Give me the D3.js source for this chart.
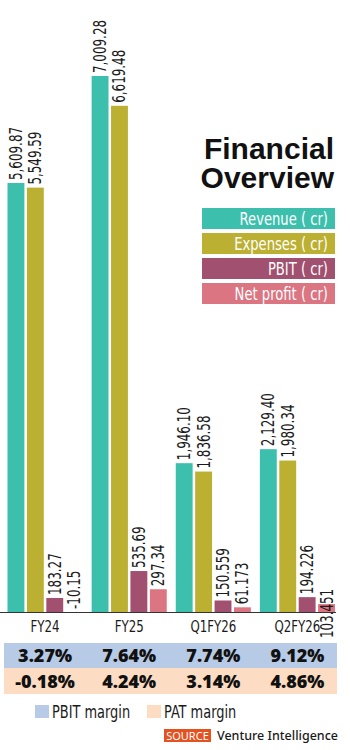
<!DOCTYPE html>
<html>
<head>
<meta charset="utf-8">
<script src="https://cdn.jsdelivr.net/npm/d3@7/dist/d3.min.js"></script>
<style>
  html, body { margin: 0; padding: 0; background: #fff; }
  svg { display: block; }
  .narrow { font-family: "Liberation Sans Narrow", "DejaVu Sans Condensed", "Roboto", sans-serif; }
</style>
</head>
<body>
<svg id="chart" width="350" height="750"></svg>
<script>
// Periods and series (₹ crore)
const periods = ["FY24", "FY25", "Q1FY26", "Q2FY26"];
const seriesNames = ["Revenue", "Expenses", "PBIT", "Net profit"];
const revenue   = [5609.87, 7009.28, 1946.10, 2129.40];
const expenses  = [5549.59, 6619.48, 1836.58, 1980.34];
const pbit      = [183.27, 535.69, 150.559, 194.226];
const netProfit = [-10.15, 297.34, 61.173, 103.451];
// Value labels as printed on the bars
const revenueLabels   = ["5,609.87", "7,009.28", "1,946.10", "2,129.40"];
const expensesLabels  = ["5,549.59", "6,619.48", "1,836.58", "1,980.34"];
const pbitLabels      = ["183.27", "535.69", "150.559", "194.226"];
const netProfitLabels = ["-10.15", "297.34", "61.173", "103.451"];
// Margin rows
const pbitMargin = ["3.27%", "7.64%", "7.74%", "9.12%"];
const patMargin  = ["-0.18%", "4.24%", "3.14%", "4.86%"];

const colors = ["#3dbfad", "#bcb033", "#a1506f", "#db7582"];
const legendText = ["Revenue (  cr)", "Expenses (  cr)", "PBIT (  cr)", "Net profit (  cr)"];

const values = [revenue, expenses, pbit, netProfit];
const labels = [revenueLabels, expensesLabels, pbitLabels, netProfitLabels];

// Horizontal squeeze used to get a condensed face out of the installed fonts
const SQ = 0.78;

const svg = d3.select("#chart");
const baseY = 612;

const x0 = d3.scaleBand().domain(periods).range([7.5, 335]).paddingInner(0.107).paddingOuter(0);
const x1 = d3.scaleBand().domain(seriesNames).range([0, x0.bandwidth()]).paddingInner(0.13).paddingOuter(0);
const y = d3.scaleLinear().domain([0, 7009.28]).range([baseY, 76]);

// Bars
const groups = svg.append("g").selectAll("g")
  .data(periods)
  .join("g")
  .attr("transform", d => `translate(${x0(d)},0)`);

const cells = groups.selectAll("g.cell")
  .data((p, i) => seriesNames.map((s, k) => ({ period: p, series: s, k, v: values[k][i], label: labels[k][i] })))
  .join("g").attr("class", "cell");

cells.append("rect")
  .attr("x", d => x1(d.series))
  .attr("width", x1.bandwidth())
  .attr("y", d => y(Math.max(0, d.v)))
  .attr("height", d => Math.abs(y(d.v) - y(0)))
  .attr("fill", d => colors[d.k]);

// The last net-profit label sits lower, across the axis, beside its short bar
const labelDrop = { "Q2FY26|Net profit": 37 };

cells.append("text")
  .attr("class", "narrow")
  .attr("transform", d => {
    const cx = x1(d.series) + x1.bandwidth() / 2 + 6;
    const yy = y(Math.max(0, d.v)) - 3 + (labelDrop[d.period + "|" + d.series] || 0);
    return `translate(${cx},${yy}) rotate(-90) scale(${SQ},1)`;
  })
  .attr("font-size", 17)
  .attr("fill", "#1a1a1a")
  .text(d => d.label);

// Baseline
svg.append("line")
  .attr("x1", 0).attr("x2", 336)
  .attr("y1", baseY + 0.5).attr("y2", baseY + 0.5)
  .attr("stroke", "#333").attr("stroke-width", 1.2);

// Category axis labels
svg.append("g").selectAll("text")
  .data(periods)
  .join("text")
  .attr("class", "narrow")
  .attr("transform", d => `translate(${x0(d) + x0.bandwidth() / 2},632) scale(0.82,1)`)
  .attr("text-anchor", "middle")
  .attr("font-size", 16)
  .attr("fill", "#1a1a1a")
  .text(d => d);

// Margin table
const rows = [
  { vals: pbitMargin, fill: "#b7cae6", y0: 643, h: 25 },
  { vals: patMargin,  fill: "#fcdcc3", y0: 668, h: 26 }
];
rows.forEach(r => {
  svg.append("rect").attr("x", 4).attr("y", r.y0).attr("width", 333).attr("height", r.h).attr("fill", r.fill);
  svg.append("g").selectAll("text")
    .data(r.vals)
    .join("text")
    .attr("x", (d, i) => x0(periods[i]) + x0.bandwidth() / 2)
    .attr("y", r.y0 + r.h / 2 + 6.5)
    .attr("text-anchor", "middle")
    .attr("font-family", "'Open Sans', 'Noto Sans', sans-serif")
    .attr("font-weight", 800)
    .attr("font-size", 18)
    .attr("fill", "#111")
    .text(d => d);
});

// Bottom legend for margin rows
const marginLegend = [
  { name: "PBIT margin", fill: "#b7cae6", x: 35 },
  { name: "PAT margin", fill: "#fcdcc3", x: 147 }
];
marginLegend.forEach(m => {
  svg.append("rect").attr("x", m.x).attr("y", 705).attr("width", 14).attr("height", 13).attr("fill", m.fill);
  svg.append("text").attr("class", "narrow")
    .attr("transform", `translate(${m.x + 17},718) scale(0.8,1)`)
    .attr("font-size", 18).attr("fill", "#1a1a1a")
    .text(m.name);
});

// Source
svg.append("rect").attr("x", 164).attr("y", 729).attr("width", 47).attr("height", 13).attr("fill", "#e4521f");
svg.append("text").attr("x", 187.5).attr("y", 739.5).attr("text-anchor", "middle")
  .attr("font-family", "'Noto Sans', sans-serif").attr("font-size", 11).attr("fill", "#fff")
  .text("SOURCE");
svg.append("text").attr("x", 217).attr("y", 740)
  .attr("font-family", "'Noto Sans', sans-serif").attr("font-weight", 500).attr("font-size", 12.5).attr("fill", "#1a1a1a")
  .text("Venture Intelligence");

// Title
const titleFont = { family: "'Liberation Sans', Arial, sans-serif", size: 30 };
["Financial", "Overview"].forEach((t, i) => {
  svg.append("text")
    .attr("font-family", titleFont.family)
    .attr("font-weight", 700).attr("font-size", titleFont.size).attr("fill", "#111")
    .attr("text-anchor", "end")
    .attr("x", 334).attr("y", 159 + i * 29)
    .text(t);
});

// Series legend
const legend = svg.append("g").selectAll("g")
  .data(seriesNames)
  .join("g")
  .attr("transform", (d, i) => `translate(202,${208 + i * 25})`);
legend.append("rect").attr("width", 133).attr("height", 21).attr("fill", (d, i) => colors[i]);
legend.append("text").attr("class", "narrow")
  .attr("transform", "translate(126,16.5) scale(0.86,1)")
  .attr("text-anchor", "end")
  .attr("font-size", 17).attr("fill", "#fff")
  .text((d, i) => legendText[i]);
</script>
</body>
</html>
